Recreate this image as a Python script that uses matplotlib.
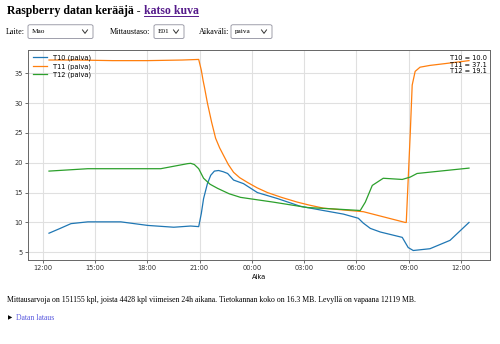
import numpy as np
import pandas as pd
import matplotlib
matplotlib.use("Agg")
import matplotlib.pyplot as plt
import matplotlib.dates as mdates
from matplotlib.patches import FancyBboxPatch

# hours counted from midnight of the first day, values in degrees
t10_hours = [12.36, 13.0, 13.62, 14.59, 16.48, 18.03, 19.52, 20.49, 20.95, 21.1, 21.23,
             21.45, 21.64, 21.85, 22.09, 22.35, 22.61, 22.95, 23.52, 24.32, 25.47, 26.79,
             28.10, 29.25, 30.11, 30.39, 30.80, 31.37, 32.63, 32.97, 33.26, 34.22, 35.37,
             36.46]
t10_values = [8.2, 9.0, 9.8, 10.1, 10.1, 9.5, 9.2, 9.4, 9.3, 11.5, 14.0,
              16.5, 17.9, 18.6, 18.7, 18.5, 18.2, 17.1, 16.5, 15.0, 14.0, 12.7,
              12.0, 11.4, 10.7, 9.9, 9.0, 8.4, 7.5, 5.8, 5.3, 5.6, 7.0,
              10.0]

t11_hours = [12.36, 14.0, 16.0, 18.0, 20.0, 20.95, 21.1, 21.2, 21.29, 21.45, 21.69,
             21.92, 22.15, 22.38, 22.65, 22.95, 23.3, 23.75, 24.3, 24.9, 25.7, 26.61,
             27.3, 28.1, 29.2, 30.4, 32.8, 32.86, 33.09, 33.2, 33.37, 33.65, 34.22,
             35.08, 36.46]
t11_values = [37.2, 37.2, 37.1, 37.1, 37.2, 37.3, 35.5, 33.8, 32.5, 30.0, 26.8,
              24.1, 22.5, 21.2, 19.7, 18.4, 17.5, 16.7, 15.8, 15.0, 14.2, 13.4,
              12.9, 12.4, 12.1, 11.8, 10.0, 10.0, 25.0, 33.0, 35.3, 36.0, 36.3,
              36.6, 37.1]

t12_hours = [12.36, 14.59, 18.77, 20.32, 20.49, 20.7, 20.95, 21.23, 21.6, 22.04, 22.7,
             23.35, 25.24, 27.18, 29.07, 30.22, 30.51, 30.91, 31.54, 32.63, 33.09, 33.48,
             36.46]
t12_values = [18.6, 19.0, 19.0, 19.85, 19.9, 19.7, 19.0, 17.4, 16.4, 15.7, 14.8,
              14.2, 13.4, 12.5, 12.2, 12.0, 13.4, 16.2, 17.4, 17.2, 17.6, 18.2,
              19.1]

series_names = ["T10 (paiva)", "T11 (paiva)", "T12 (paiva)"]
latest = {"T10": 10.0, "T11": 37.1, "T12": 19.1}

base = pd.Timestamp("2024-01-01 00:00")


def to_time(hours):
    return base + pd.to_timedelta(hours, unit="h")


serif = ["Liberation Serif", "DejaVu Serif"]
fig = plt.figure(figsize=(5.0, 3.44), dpi=100)
renderer = fig.canvas.get_renderer()

# page header
title_y = 1 - 14 / 344
t1 = fig.text(0.014, title_y, "Raspberry datan kerääjä - ", family=serif, weight="bold",
              fontsize=8.45, va="baseline", ha="left")
x_link = fig.transFigure.inverted().transform(t1.get_window_extent(renderer))[1, 0]
t2 = fig.text(x_link, title_y, "katso kuva", family=serif, weight="bold", fontsize=8.45,
              va="baseline", ha="left", color="#551a8b")
x_end = fig.transFigure.inverted().transform(t2.get_window_extent(renderer))[1, 0]
fig.add_artist(plt.Line2D([x_link, x_end], [1 - 16 / 344] * 2, color="#551a8b", lw=0.7))

# form row
form = [("Laite:", 0.012, "Mao", 0.056, 0.130),
        ("Mittaustaso:", 0.220, "E01", 0.308, 0.060),
        ("Aikaväli:", 0.398, "paiva", 0.462, 0.082)]
for label, lx, value, bx, bw in form:
    fig.text(lx, 0.908, label, family=serif, fontsize=5.9, va="center")
    box = FancyBboxPatch((bx, 0.888), bw, 0.040, boxstyle="round,pad=0,rounding_size=0.004",
                         transform=fig.transFigure, fc="white", ec="#8f8f9d", lw=0.6)
    fig.add_artist(box)
    fig.text(bx + 0.008, 0.908, value, family=serif, fontsize=5.2, va="center")
    ax_x = bx + bw - 0.016
    fig.add_artist(plt.Line2D([ax_x - 0.005, ax_x, ax_x + 0.005], [0.913, 0.903, 0.913],
                              color="#333333", lw=0.7))

# chart
ax = fig.add_axes([0.056, 0.244, 0.924, 0.611])
colors = ["#1f77b4", "#ff7f0e", "#2ca02c"]
for hours, values, name, c in zip([t10_hours, t11_hours, t12_hours],
                                  [t10_values, t11_values, t12_values],
                                  series_names, colors):
    ax.plot(to_time(hours), values, color=c, lw=0.9, label=name)

ax.xaxis.set_major_locator(mdates.HourLocator(byhour=range(0, 24, 3)))
ax.xaxis.set_major_formatter(mdates.DateFormatter("%H:%M"))
ax.set_xlabel("Aika", fontsize=4.8, labelpad=2)
ax.tick_params(labelsize=4.8, length=2, width=0.5, pad=1.5, colors="#333333")
ax.grid(True, color="#e0e0e0", lw=0.8)
for s in ax.spines.values():
    s.set_color("#666666")
    s.set_linewidth(0.7)
ax.legend(loc="upper left", fontsize=4.8, frameon=False, handlelength=2.2,
          borderaxespad=0.3, labelspacing=0.3)
txt = "\n".join(f"{k} = {v:.1f}" for k, v in latest.items())
ax.text(0.993, 0.975, txt, transform=ax.transAxes, ha="right", va="top",
        fontsize=4.8, multialignment="right", linespacing=1.1)

# footer
fig.text(0.014, 0.128, "Mittausarvoja on 151155 kpl, joista 4428 kpl viimeisen 24h aikana. "
         "Tietokannan koko on 16.3 MB. Levyllä on vapaana 12119 MB.",
         family=serif, fontsize=5.6, va="center")
fig.text(0.016, 0.075, "▶", family=["DejaVu Sans"], fontsize=4.0, va="center")
fig.text(0.033, 0.075, "Datan lataus", family=serif, fontsize=5.6, va="center",
         color="#5a5adf")

fig.savefig("out.png", dpi=100)
